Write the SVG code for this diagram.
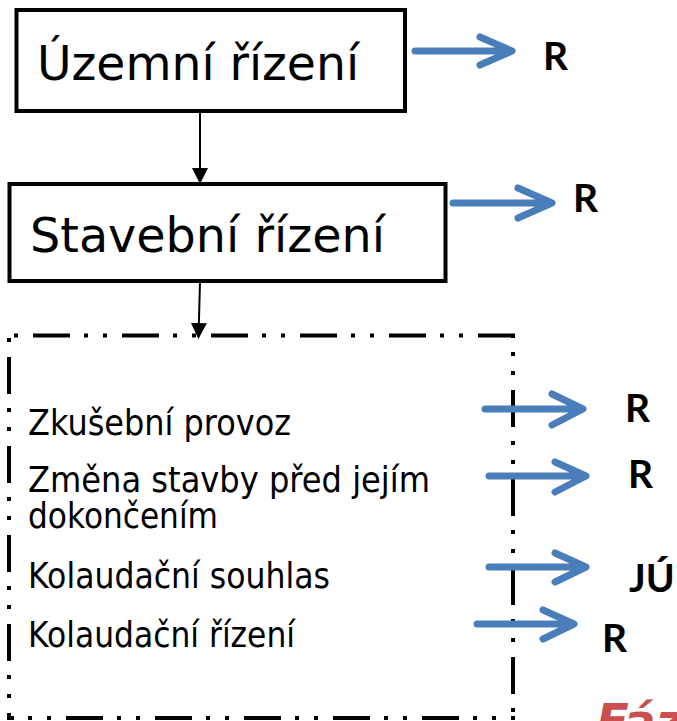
<svg xmlns="http://www.w3.org/2000/svg" width="677" height="721" viewBox="0 0 677 721">
<style>
.box{fill:#fff;stroke:#000;stroke-width:4}
.big{font-family:"DejaVu Sans",Verdana,sans-serif;font-size:48px;fill:#000}
.item{font-family:"DejaVu Sans",Verdana,sans-serif;font-size:36px;fill:#000}
.res{font-family:Lato,"Liberation Sans",sans-serif;font-weight:bold;font-size:39px;fill:#000}
.blue{fill:none;stroke:#4a7ebb;stroke-width:7;stroke-linecap:round;stroke-linejoin:round}
.dash{fill:none;stroke:#000;stroke-width:4;stroke-dasharray:37 14 4 15 4 15}
.conn{fill:none;stroke:#000;stroke-width:2}
</style>
<defs>
<marker id="ah" markerWidth="8" markerHeight="8" refX="7" refY="4" orient="auto" markerUnits="strokeWidth">
<path d="M0,0 L8,4 L0,8 Z" fill="#000"/>
</marker>
</defs>
<g id="uzemni">
<rect class="box" x="16.5" y="10" width="388.5" height="101"/>
<text class="big" x="37" y="80" textLength="322" lengthAdjust="spacingAndGlyphs">Územní řízení</text>
</g>
<g id="stavebni">
<rect class="box" x="9.5" y="184" width="436" height="97"/>
<text class="big" x="30" y="252" textLength="355" lengthAdjust="spacingAndGlyphs">Stavební řízení</text>
</g>
<g id="kolaudace">
<line class="dash" x1="7" y1="335.5" x2="515" y2="335.5" stroke-dashoffset="63"/>
<line class="dash" x1="513" y1="335" x2="513" y2="712" stroke-dashoffset="34"/>
<line class="dash" x1="9" y1="335" x2="9" y2="720" stroke-dashoffset="67"/>
<line class="dash" x1="7" y1="718" x2="515" y2="718" stroke-dashoffset="30"/>
<text class="item" x="28" y="435" textLength="263" lengthAdjust="spacingAndGlyphs">Zkušební provoz</text>
<text class="item" x="28" y="492" textLength="402" lengthAdjust="spacingAndGlyphs">Změna stavby před jejím</text>
<text class="item" x="28" y="528" textLength="190" lengthAdjust="spacingAndGlyphs">dokončením</text>
<text class="item" x="28" y="588" textLength="302" lengthAdjust="spacingAndGlyphs">Kolaudační souhlas</text>
<text class="item" x="28" y="647" textLength="267" lengthAdjust="spacingAndGlyphs">Kolaudační řízení</text>
</g>
<g id="connectors">
<line class="conn" x1="200" y1="112" x2="200" y2="182" marker-end="url(#ah)"/>
<line class="conn" x1="200" y1="282" x2="198.5" y2="337" marker-end="url(#ah)"/>
<path class="blue" d="M415,51 H510 M480,37 L512,51 L480,65"/>
<path class="blue" d="M453,203 H550 M518,188 L552,203 L518,218"/>
<path class="blue" d="M485,409 H581 M552,394 L583,409 L552,425"/>
<path class="blue" d="M489,476 H584 M555,462 L586,476 L555,492"/>
<path class="blue" d="M489,567 H584 M555,553 L586,567 L555,582"/>
<path class="blue" d="M477,624 H572 M543,610 L574,624 L543,639"/>
</g>
<g id="results">
<text class="res" x="543" y="70">R</text>
<text class="res" x="573" y="212">R</text>
<text class="res" x="625" y="422">R</text>
<text class="res" x="628" y="488">R</text>
<text class="res" x="629" y="592">JÚ</text>
<text class="res" x="602" y="652">R</text>
</g>
<text x="596" y="738" font-family="'DejaVu Sans',sans-serif" font-weight="bold" font-style="italic" font-size="48" fill="#c9504e">Fáze</text>
</svg>
